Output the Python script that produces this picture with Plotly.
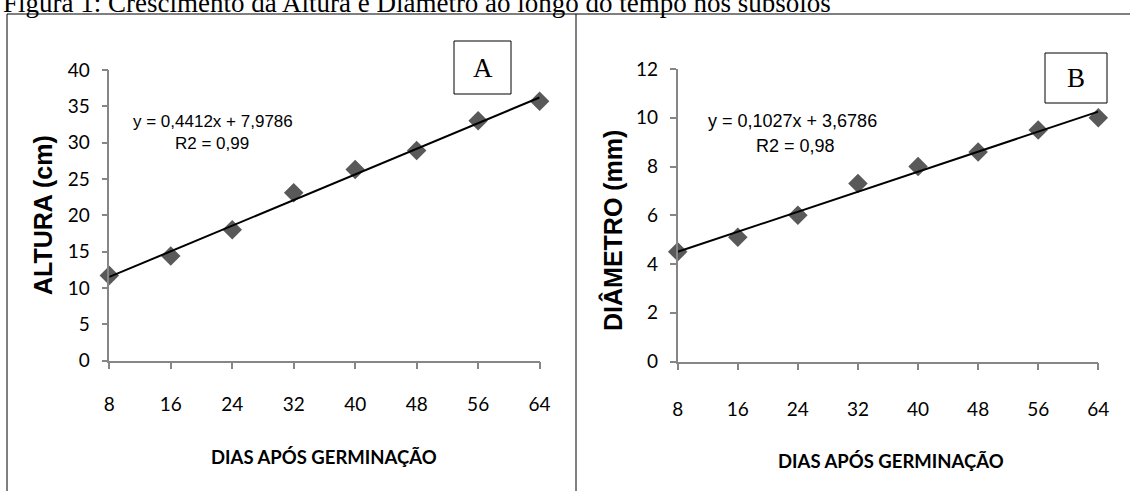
import plotly.graph_objects as go

# ---------------- data ----------------
days = [8, 16, 24, 32, 40, 48, 56, 64]
day_labels = ["8", "16", "24", "32", "40", "48", "56", "64"]
altura = [11.7, 14.4, 18.0, 23.1, 26.3, 28.9, 33.0, 35.7]
diametro = [4.5, 5.1, 6.0, 7.3, 8.0, 8.6, 9.5, 10.0]
altura_slope, altura_intercept = 0.4412, 7.9786
diam_slope, diam_intercept = 0.1027, 3.6786
altura_eq = "y = 0,4412x + 7,9786"
altura_r2 = "R2 = 0,99"
diam_eq = "y = 0,1027x + 3,6786"
diam_r2 = "R2 = 0,98"
altura_yticks = [0, 5, 10, 15, 20, 25, 30, 35, 40]
diam_yticks = [0, 2, 4, 6, 8, 10, 12]
caption = "Figura 1: Crescimento da Altura e Diâmetro ao longo do tempo nos subsolos"

W, H = 1130, 491
HUM = "Lato, Liberation Sans, sans-serif"
ARIAL = "Liberation Sans, Arial, sans-serif"
SERIF = "Liberation Serif, Times New Roman, serif"
AX = "#868686"
MK = "#595959"


def px(x):
    return x / W


def py(y):
    return 1 - y / H


fig = go.Figure()

# Panel A
fig.add_trace(go.Scatter(x=days, y=altura, mode="markers",
                         marker=dict(symbol="diamond", size=15, color=MK),
                         cliponaxis=False, xaxis="x", yaxis="y", showlegend=False))
fig.add_trace(go.Scatter(x=[days[0], days[-1]],
                         y=[altura_slope * days[0] + altura_intercept,
                            altura_slope * days[-1] + altura_intercept],
                         mode="lines", line=dict(color="black", width=2),
                         cliponaxis=False, xaxis="x", yaxis="y", showlegend=False))
# Panel B
fig.add_trace(go.Scatter(x=days, y=diametro, mode="markers",
                         marker=dict(symbol="diamond", size=15, color=MK),
                         cliponaxis=False, xaxis="x2", yaxis="y2", showlegend=False))
fig.add_trace(go.Scatter(x=[days[0], days[-1]],
                         y=[diam_slope * days[0] + diam_intercept,
                            diam_slope * days[-1] + diam_intercept],
                         mode="lines", line=dict(color="black", width=2),
                         cliponaxis=False, xaxis="x2", yaxis="y2", showlegend=False))

common_x = dict(tickmode="array", tickvals=days, ticktext=day_labels,
                showline=True, linecolor=AX, linewidth=1.5, ticks="outside",
                ticklen=7, tickcolor=AX, tickwidth=1.5, showgrid=False, zeroline=False,
                tickfont=dict(family=HUM, size=19, color="black"),
                range=[days[0], days[-1]], fixedrange=True, automargin=False)
common_y = dict(showline=True, linecolor=AX, linewidth=1.5, ticks="outside",
                ticklen=6, tickcolor=AX, tickwidth=1.5, showgrid=False, zeroline=False,
                tickfont=dict(family=HUM, size=19, color="black"),
                ticklabelstandoff=8, fixedrange=True, automargin=False)

fig.update_layout(
    template="none",
    width=W, height=H, margin=dict(l=0, r=0, t=0, b=0, autoexpand=False),
    paper_bgcolor="white", plot_bgcolor="white",
    xaxis=dict(domain=[px(109.3), px(539.6)], anchor="y", ticklabelstandoff=19, **common_x),
    yaxis=dict(domain=[py(360.5), py(70)], anchor="x", range=[0, 40],
               tickmode="array", tickvals=altura_yticks, **common_y),
    xaxis2=dict(domain=[px(677.7), px(1098.3)], anchor="y2", ticklabelstandoff=23, **common_x),
    yaxis2=dict(domain=[py(361.5), py(69)], anchor="x2", range=[0, 12],
                tickmode="array", tickvals=diam_yticks, **common_y),
)

shapes = [
    # outer frame
    dict(type="line", xref="paper", yref="paper", x0=px(7), x1=1, y0=py(14), y1=py(14),
         line=dict(color="black", width=1)),
    dict(type="line", xref="paper", yref="paper", x0=px(7), x1=px(7), y0=py(14), y1=0,
         line=dict(color="black", width=1)),
    dict(type="line", xref="paper", yref="paper", x0=px(576), x1=px(576), y0=py(14), y1=0,
         line=dict(color="black", width=1)),
    # label boxes
    dict(type="rect", xref="paper", yref="paper", x0=px(454), x1=px(511), y0=py(94), y1=py(41),
         line=dict(color="black", width=1), fillcolor="white"),
    dict(type="rect", xref="paper", yref="paper", x0=px(1045), x1=px(1107), y0=py(103), y1=py(53),
         line=dict(color="black", width=1), fillcolor="white"),
]
fig.update_layout(shapes=shapes)


def ann(text, x, y, font, **kw):
    d = dict(text=text, xref="paper", yref="paper", x=px(x), y=py(y),
             showarrow=False, font=font, xanchor="center", yanchor="middle")
    d.update(kw)
    return d


annotations = [
    ann(caption, 1, 3, dict(family=SERIF, size=27, color="black"), xanchor="left"),
    ann("A", 482.5, 68, dict(family=SERIF, size=27, color="black")),
    ann("B", 1076, 78, dict(family=SERIF, size=27, color="black")),
    ann(altura_eq, 213, 122, dict(family=ARIAL, size=17, color="black")),
    ann(altura_r2, 212, 143, dict(family=ARIAL, size=17, color="black")),
    ann(diam_eq, 792, 121, dict(family=ARIAL, size=18, color="black")),
    ann(diam_r2, 795, 146, dict(family=ARIAL, size=18, color="black")),
    ann("<b>DIAS APÓS GERMINAÇÃO</b>", 324, 457, dict(family=HUM, size=18.5, color="black")),
    ann("<b>DIAS APÓS GERMINAÇÃO</b>", 891, 461, dict(family=HUM, size=18.5, color="black")),
    ann("<b>ALTURA (cm)</b>", 43, 215, dict(family=ARIAL, size=25, color="black"), textangle=-90),
    ann("<b>DIÂMETRO (mm)</b>", 612, 231, dict(family=ARIAL, size=25, color="black"), textangle=-90),
]
fig.update_layout(annotations=annotations)

fig.write_html("out.html", config={"displayModeBar": False},
               post_script="document.body.style.margin='0';document.body.style.overflow='hidden';")
